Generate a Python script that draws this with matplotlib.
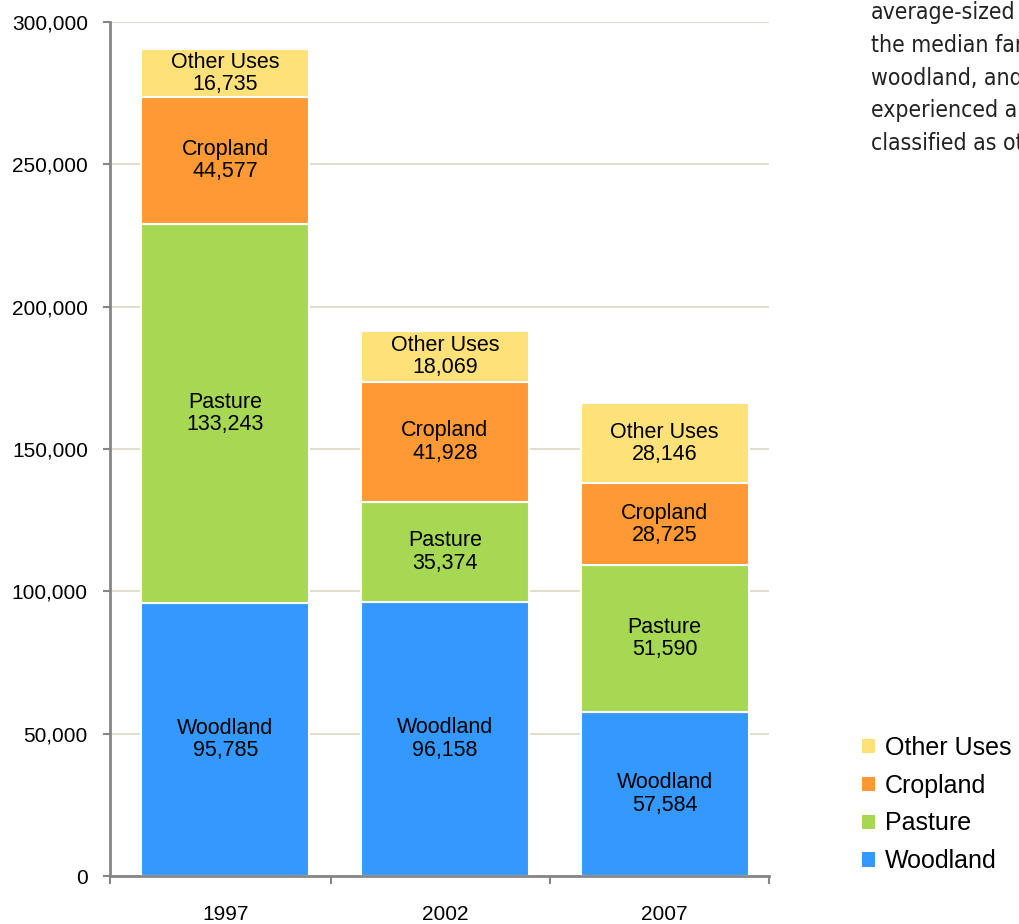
import matplotlib
matplotlib.use("Agg")
import matplotlib.pyplot as plt
from matplotlib.ticker import FuncFormatter, FixedLocator
from matplotlib.patches import Patch

years = ["1997", "2002", "2007"]
woodland = [95785, 96158, 57584]
pasture = [133243, 35374, 51590]
cropland = [44577, 41928, 28725]
other_uses = [16735, 18069, 28146]
series_names = ["Woodland", "Pasture", "Cropland", "Other Uses"]
colors = ["#3399ff", "#a6d854", "#ff9933", "#ffe17a"]
side_text = ["average-sized", "the median far", "woodland, and", "experienced ar", "classified as oth"]

plt.rcParams['font.family'] = ['Liberation Sans', 'DejaVu Sans']

fig = plt.figure(figsize=(10.19, 9.24), dpi=100)
ax = fig.add_axes([110/1019, 48/924, 659/1019, 854/924])

series = [woodland, pasture, cropland, other_uses]
x = list(range(len(years)))
bottom = [0]*len(years)
for name, vals, col in zip(series_names, series, colors):
    ax.bar(x, vals, bottom=bottom, width=0.765, color=col, edgecolor="white", linewidth=1.5, zorder=3)
    for xi, b, v in zip(x, bottom, vals):
        ax.text(xi, b + v/2, f"{name}\n{v:,}", ha="center", va="center", fontsize=15.5,
                linespacing=1.1, zorder=4)
    bottom = [b + v for b, v in zip(bottom, vals)]

ax.set_xlim(-0.525, 2.475)
ax.set_ylim(0, 300000)
ax.set_yticks(range(0, 300001, 50000))
ax.yaxis.set_major_formatter(FuncFormatter(lambda v, p: f"{int(v):,}"))
ax.set_xticks(x)
ax.set_xticklabels(years)
ax.xaxis.set_minor_locator(FixedLocator([-0.525, 0.48, 1.48, 2.475]))
ax.tick_params(axis="x", which="major", length=0, pad=21, labelsize=15)
ax.tick_params(axis="x", which="minor", length=6, color="#868686", width=1.5)
ax.tick_params(axis="y", length=5, color="#868686", width=1.5, labelsize=15, pad=11)
ax.grid(axis="y", color="#dcd8c4", linewidth=1.2, zorder=0)
for s in ["top", "right"]:
    ax.spines[s].set_visible(False)
for s in ["left", "bottom"]:
    ax.spines[s].set_color("#868686")
    ax.spines[s].set_linewidth(2)
ax.spines["bottom"].set_zorder(5)

handles = [Patch(facecolor=c, edgecolor="none") for c in colors[::-1]]
fig.legend(handles, series_names[::-1], loc="upper left", bbox_to_anchor=(852/1019, 1-726/924),
           frameon=False, fontsize=18, handlelength=0.5, handleheight=0.5,
           handletextpad=0.42, labelspacing=0.55, borderaxespad=0)

for i, line in enumerate(side_text):
    fig.text(871/1019, 1 - (12 + 33*i)/924, line, fontsize=16.5, family=["DejaVu Sans"],
             stretch="condensed", va="center", ha="left", color="#222222")

fig.savefig("out.png", dpi=100)
